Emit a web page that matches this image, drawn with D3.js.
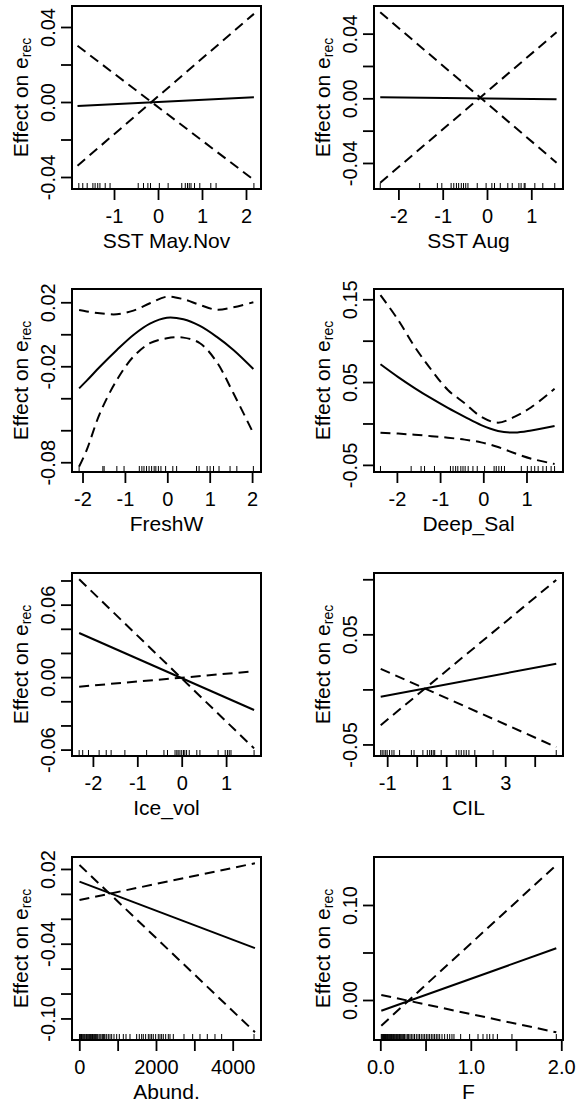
<!DOCTYPE html>
<html><head><meta charset="utf-8">
<script src="https://cdn.jsdelivr.net/npm/d3@7"></script>
<style>body{margin:0;background:#fff}svg{display:block}text{font-family:"Liberation Sans",Arial,sans-serif;fill:#000}</style>
</head><body>
<svg id="c" width="577" height="1105"></svg>
<script>
// ---------- DATA ----------
const xLabels = ["SST May.Nov","SST Aug","FreshW","Deep_Sal","Ice_vol","CIL","Abund.","F"];
const xDomains = [[-1.955,2.341],[-2.551,1.716],[-2.248,2.210],[-2.530,1.845],[-2.471,1.786],[-1.447,4.959],[-190,4738],[-0.0696,2.019]];
const yDomains = [[-0.0464,0.0512],[-0.0561,0.0571],[-0.0861,0.0283],[-0.0586,0.1624],[-0.0653,0.0862],[-0.0605,0.1057],[-0.1173,0.0296],[-0.0421,0.1505]];
const xTicks = [[-1,0,1,2],[-2,-1,0,1],[-2,-1,0,1,2],[-2,-1,0,1],[-2,-1,0,1],[-1,0,1,2,3,4],[0,1000,2000,3000,4000],[0,0.5,1,1.5,2]];
const xTickLabels = [["-1","0","1","2"],["-2","-1","0","1"],["-2","-1","0","1","2"],["-2","-1","0","1"],["-2","-1","0","1"],["-1","","1","","3",""],["0","","2000","","4000"],["0.0","","1.0","","2.0"]];
const yTicks = [[-0.04,-0.02,0,0.02,0.04],[-0.04,-0.02,0,0.02,0.04],[-0.08,-0.06,-0.04,-0.02,0,0.02],[-0.05,0,0.05,0.10,0.15],[-0.06,-0.04,-0.02,0,0.02,0.04,0.06,0.08],[-0.05,0,0.05,0.10],[-0.10,-0.08,-0.06,-0.04,-0.02,0,0.02],[0,0.05,0.10]];
const yTickLabels = [["-0.04","","0.00","","0.04"],["-0.04","","0.00","","0.04"],["-0.08","","","-0.02","","0.02"],["-0.05","","0.05","","0.15"],["-0.06","","","0.00","","","0.06",""],["-0.05","","0.05",""],["-0.10","","","-0.04","","","0.02"],["0.00","","0.10"]];

// smooth-term x grid, fitted effect and the two confidence bounds
const curveX = [
  [-1.83, 2.18],
  [-2.41, 1.57],
  [-2.08,-1.90,-1.59,-1.19,-0.80,-0.41,-0.01,0.38,0.77,1.16,1.56,2.03],
  [-2.38,-1.97,-1.59,-1.20,-0.82,-0.43,-0.05,0.34,0.73,1.11,1.65],
  [-2.31, 1.63],
  [-1.22, 4.73],
  [5, 4580],
  [0.011, 1.945]
];
const fitY = [
  [-0.0021, 0.0025],
  [0.0006, -0.0006],
  [-0.0338,-0.0290,-0.0203,-0.0098,-0.0004,0.0067,0.0104,0.0094,0.0052,-0.0015,-0.0098,-0.0217],
  [0.0715,0.0560,0.0428,0.0302,0.0188,0.0080,-0.0020,-0.0090,-0.0110,-0.0085,-0.0030],
  [0.0365, -0.0272],
  [-0.0066, 0.0232],
  [0.0098, -0.0436],
  [-0.0113, 0.0544]
];
const bandA = [
  [0.030, -0.0416],
  [0.0532, -0.0398],
  [0.0152,0.0143,0.0131,0.0125,0.0148,0.0194,0.0235,0.0219,0.0183,0.0154,0.0169,0.0200],
  [0.155,0.125,0.0928,0.0646,0.0405,0.0244,0.0082,0.0010,0.0082,0.0196,0.0419],
  [0.081, -0.059],
  [-0.0325, 0.0994],
  [0.0232, -0.111],
  [-0.027, 0.142]
];
const bandB = [
  [-0.034, 0.047],
  [-0.0522, 0.0408],
  [-0.0827,-0.0723,-0.0494,-0.0286,-0.0140,-0.0056,-0.0025,-0.0021,-0.0056,-0.0171,-0.0369,-0.0619],
  [-0.0111,-0.0122,-0.0136,-0.0153,-0.0172,-0.0195,-0.0228,-0.0285,-0.0360,-0.0425,-0.0489],
  [-0.0079, 0.0048],
  [0.0187, -0.0524],
  [-0.0049, 0.0246],
  [0.0053, -0.034]
];
const rugs = [
  [-1.80,-1.71,-1.61,-1.48,-1.43,-1.37,-1.32,-1.20,-1.09,-0.45,-0.33,-0.23,-0.17,0.03,0.23,0.54,0.62,0.67,0.71,0.75,0.83,0.95,1.20,1.32,2.18],
  [-2.41,-1.52,-1.12,-1.02,-0.81,-0.75,-0.69,-0.64,-0.58,-0.53,-0.48,-0.43,-0.22,-0.02,0.11,0.17,0.30,0.47,0.57,0.72,0.77,0.84,0.86,1.08,1.26,1.53],
  [-2.08,-1.52,-1.49,-1.19,-1.02,-0.66,-0.60,-0.55,-0.49,-0.43,-0.37,-0.31,-0.27,-0.21,-0.15,-0.04,0.13,0.22,0.69,0.75,0.94,1.01,1.09,1.22,1.48,1.64,2.03],
  [-2.38,-1.67,-1.44,-1.36,-1.13,-0.76,-0.70,-0.64,-0.59,-0.52,-0.47,-0.42,-0.35,-0.24,-0.14,0.03,0.25,0.30,0.36,0.42,0.49,0.88,1.02,1.11,1.19,1.27,1.38,1.46,1.57,1.65],
  [-2.31,-2.23,-2.10,-1.86,-1.70,-1.59,-1.28,-0.79,-0.40,-0.32,-0.15,-0.11,-0.08,-0.04,0.00,0.04,0.07,0.11,0.17,0.34,0.41,0.82,0.98,1.03,1.07,1.11,1.63],
  [-1.22,-1.17,-1.11,-1.05,-1.00,-0.92,-0.84,-0.77,-0.58,-0.18,-0.09,0.21,0.36,0.44,0.50,0.56,0.61,0.83,1.34,1.43,1.51,1.60,1.68,1.77,1.97,2.59,4.73],
  [5,22,36,58,79,105,130,149,175,192,209,236,262,280,296,322,345,366,392,410,427,453,479,514,540,566,601,627,650,670,714,757,801,844,905,975,1044,1148,1218,1322,1496,1565,1626,1669,1730,1800,1843,1886,1930,1991,2060,2104,2147,2191,2252,2321,2365,2452,2730,2956,3147,3338,3538,3712,4556],
  [0.011,0.018,0.022,0.030,0.034,0.041,0.045,0.052,0.056,0.063,0.067,0.078,0.083,0.089,0.100,0.108,0.111,0.122,0.127,0.133,0.144,0.150,0.155,0.166,0.177,0.184,0.188,0.199,0.210,0.215,0.221,0.232,0.243,0.254,0.262,0.269,0.284,0.299,0.313,0.328,0.343,0.361,0.378,0.398,0.417,0.434,0.453,0.472,0.490,0.509,0.527,0.545,0.564,0.582,0.600,0.619,0.637,0.656,0.682,0.711,0.741,0.767,0.792,0.814,0.888,0.987,1.080,1.135,1.179,1.209,1.246,1.294,1.455,1.945]
];

// ---------- LAYOUT ----------
const svg = d3.select("#c");
svg.append("rect").attr("width",577).attr("height",1105).attr("fill","#fff");
const colLeft = [72, 374], rowTop = [6, 289, 573, 857], boxW = 189, boxH = 183;
const FS = 20;

xLabels.forEach((lab, i) => {
  const left = colLeft[i % 2], top = rowTop[Math.floor(i / 2)];
  const xs = d3.scaleLinear().domain(xDomains[i]).range([left, left + boxW]);
  const ys = d3.scaleLinear().domain(yDomains[i]).range([top + boxH, top]);
  const g = svg.append("g");

  // x axis
  const xa = g.append("g").attr("transform", `translate(0,${top + boxH})`)
    .call(d3.axisBottom(xs).tickValues(xTicks[i]).tickFormat((d, j) => xTickLabels[i][j]).tickSize(11).tickSizeOuter(0));
  xa.select(".domain").remove();
  xa.selectAll(".tick line").attr("stroke", "#000").attr("stroke-width", 1.8);
  xa.selectAll(".tick text").attr("y", 34).attr("dy", null).attr("font-size", FS).attr("fill", "#000")
    .style("font-family", '"Liberation Sans",Arial,sans-serif');

  // y axis
  const ya = g.append("g").attr("transform", `translate(${left},0)`)
    .call(d3.axisLeft(ys).tickValues(yTicks[i]).tickFormat((d, j) => yTickLabels[i][j]).tickSize(11).tickSizeOuter(0));
  ya.select(".domain").remove();
  ya.selectAll(".tick line").attr("stroke", "#000").attr("stroke-width", 1.8);
  ya.selectAll(".tick text").attr("x", null).attr("dy", null).attr("text-anchor", "middle")
    .attr("transform", "translate(-17,0) rotate(-90)").attr("font-size", FS).attr("fill", "#000")
    .style("font-family", '"Liberation Sans",Arial,sans-serif');

  // rug
  g.append("g").selectAll("line").data(rugs[i]).join("line")
    .attr("x1", d => xs(d)).attr("x2", d => xs(d))
    .attr("y1", top + boxH).attr("y2", top + boxH - 6)
    .attr("stroke", "#000").attr("stroke-width", 1);

  // curves
  const mk = (ysArr) => d3.line().x((d, k) => xs(curveX[i][k])).y(d => ys(d)).curve(d3.curveCatmullRom.alpha(0.5))(ysArr);
  g.append("path").attr("d", mk(bandA[i])).attr("fill", "none").attr("stroke", "#000").attr("stroke-width", 2).attr("stroke-dasharray", "10,6");
  g.append("path").attr("d", mk(bandB[i])).attr("fill", "none").attr("stroke", "#000").attr("stroke-width", 2).attr("stroke-dasharray", "10,6");
  g.append("path").attr("d", mk(fitY[i])).attr("fill", "none").attr("stroke", "#000").attr("stroke-width", 2);

  // box
  g.append("rect").attr("x", left).attr("y", top).attr("width", boxW).attr("height", boxH)
    .attr("fill", "none").attr("stroke", "#000").attr("stroke-width", 2);

  // axis titles
  g.append("text").attr("x", left + boxW / 2).attr("y", top + boxH + 59).attr("text-anchor", "middle").attr("font-size", FS + 1).text(lab);
  const yl = g.append("text").attr("text-anchor", "middle").attr("font-size", FS + 1)
    .attr("transform", `translate(${left - 44},${top + boxH / 2}) rotate(-90)`);
  yl.append("tspan").text("Effect on e");
  yl.append("tspan").attr("font-size", 14).attr("dy", 3).text("rec");
});
</script>
</body></html>
